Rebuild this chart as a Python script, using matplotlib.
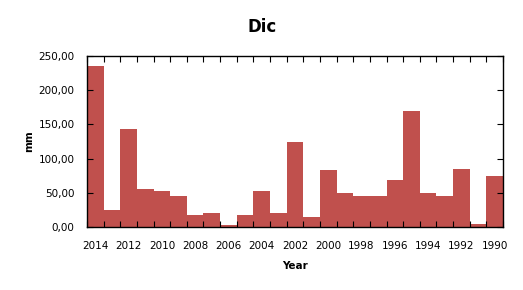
import matplotlib
matplotlib.use("Agg")
import matplotlib.pyplot as plt
from matplotlib.ticker import FuncFormatter, FixedLocator

years = list(range(2014, 1989, -1))
values = [236, 25, 144, 55, 53, 45, 17, 20, 3.5, 17, 53, 21, 124,
          14, 84, 50, 45, 45, 69, 169, 50, 45, 85, 5, 75]
title = "Dic"
xlabel = "Year"
ylabel = "mm"

fig = plt.figure(figsize=(5.23, 2.90), dpi=100)
ax = fig.add_axes([87/523, 1-227/290, 416/523, 171/290])

x = list(range(len(years)))
ax.bar(x, values, width=1.0, color="#C0504D", edgecolor="none")

ax.set_xlim(-0.5, len(years)-0.5)
ax.set_ylim(0, 250)

ax.yaxis.set_major_locator(FixedLocator([0, 50, 100, 150, 200, 250]))
ax.yaxis.set_major_formatter(FuncFormatter(lambda v, p: f"{v:.2f}".replace(".", ",")))

label_idx = [i for i, y in enumerate(years) if y % 2 == 0]
ax.set_xticks(label_idx)
ax.set_xticklabels([str(years[i]) for i in label_idx])
ax.set_xticks([i - 0.5 for i in range(len(years)+1)], minor=True)

ax.tick_params(axis="x", which="major", length=0, labelsize=7.5, pad=10)
ax.tick_params(axis="x", which="minor", length=4, direction="in", top=True, width=0.8)
ax.tick_params(axis="y", which="major", length=4, direction="in", right=True,
               labelsize=7.5, width=0.8, pad=9)

for s in ax.spines.values():
    s.set_linewidth(1.0)

ax.set_xlabel(xlabel, fontsize=7.5, fontweight="bold", labelpad=7)
ax.set_ylabel(ylabel, fontsize=7.5, fontweight="bold", labelpad=3)
fig.text(262/523, 1-27/290, title, ha="center", va="center",
         fontsize=12, fontweight="bold")

fig.savefig("out.png", dpi=100)
